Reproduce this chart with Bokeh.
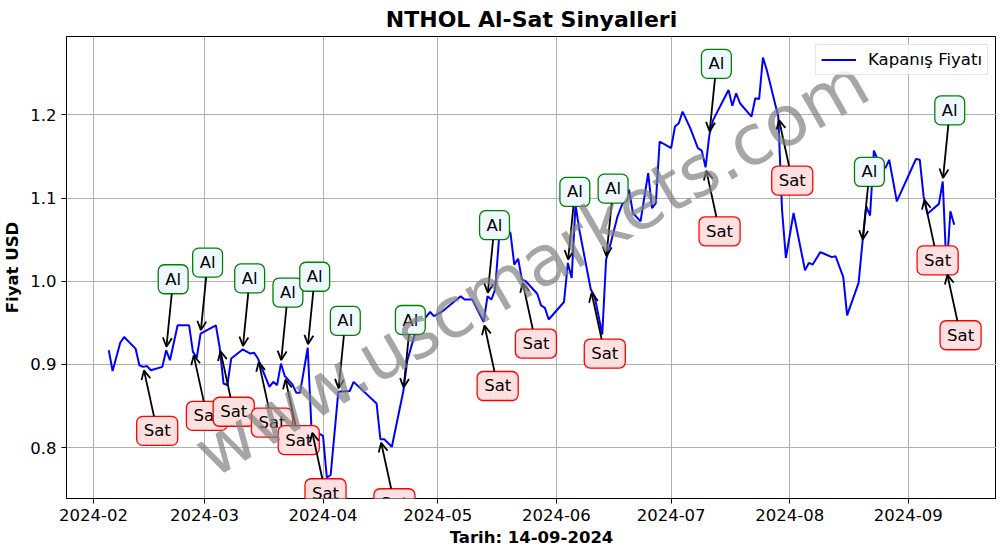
import numpy as np
import pandas as pd
from bokeh.plotting import figure
from bokeh.models import (ColumnDataSource, Range1d, Arrow, OpenHead, FixedTicker, Label,
                          MonthsTicker, DatetimeTickFormatter, NumeralTickFormatter)
from bokeh.embed import file_html
from bokeh.resources import INLINE

# ---------------- data ----------------
dates = [
    "2024-02-05", "2024-02-06", "2024-02-08", "2024-02-09", "2024-02-12", "2024-02-13",
    "2024-02-14", "2024-02-15", "2024-02-16", "2024-02-19", "2024-02-20", "2024-02-21",
    "2024-02-23", "2024-02-26", "2024-02-27", "2024-02-28", "2024-02-29", "2024-03-04",
    "2024-03-05", "2024-03-06", "2024-03-07", "2024-03-08", "2024-03-11", "2024-03-13",
    "2024-03-14", "2024-03-15", "2024-03-18", "2024-03-19", "2024-03-20", "2024-03-21",
    "2024-03-22", "2024-03-24", "2024-03-25", "2024-03-26", "2024-03-28", "2024-03-29",
    "2024-04-01", "2024-04-02", "2024-04-03", "2024-04-05", "2024-04-08", "2024-04-09",
    "2024-04-15", "2024-04-16", "2024-04-17", "2024-04-19", "2024-04-22", "2024-04-23",
    "2024-04-25", "2024-04-27", "2024-04-29", "2024-04-30", "2024-05-02", "2024-05-07",
    "2024-05-08", "2024-05-10", "2024-05-13", "2024-05-14", "2024-05-15", "2024-05-16",
    "2024-05-17", "2024-05-18", "2024-05-20", "2024-05-21", "2024-05-22", "2024-05-23",
    "2024-05-24", "2024-05-27", "2024-05-28", "2024-05-29", "2024-05-30", "2024-06-03",
    "2024-06-04", "2024-06-05", "2024-06-06", "2024-06-07", "2024-06-10", "2024-06-11",
    "2024-06-13", "2024-06-14", "2024-06-15", "2024-06-17", "2024-06-18", "2024-06-20",
    "2024-06-21", "2024-06-23", "2024-06-25", "2024-06-26", "2024-06-27", "2024-06-28",
    "2024-07-01", "2024-07-02", "2024-07-03", "2024-07-04", "2024-07-06", "2024-07-08",
    "2024-07-09", "2024-07-10", "2024-07-11", "2024-07-12", "2024-07-16", "2024-07-17",
    "2024-07-18", "2024-07-19", "2024-07-22", "2024-07-23", "2024-07-24", "2024-07-25",
    "2024-07-26", "2024-07-29", "2024-07-30", "2024-07-31", "2024-08-02", "2024-08-05",
    "2024-08-06", "2024-08-07", "2024-08-09", "2024-08-10", "2024-08-12", "2024-08-13",
    "2024-08-15", "2024-08-16", "2024-08-19", "2024-08-20", "2024-08-21", "2024-08-22",
    "2024-08-23", "2024-08-24", "2024-08-26", "2024-08-27", "2024-08-29", "2024-09-03",
    "2024-09-04", "2024-09-05", "2024-09-06", "2024-09-09", "2024-09-10", "2024-09-11",
    "2024-09-12", "2024-09-13",
]
close = [
    0.917, 0.892, 0.926, 0.933, 0.919, 0.899,
    0.897, 0.898, 0.893, 0.897, 0.917, 0.905,
    0.947, 0.947, 0.915, 0.908, 0.937, 0.947,
    0.920, 0.877, 0.875, 0.907, 0.918, 0.913,
    0.914, 0.907, 0.873, 0.879, 0.875, 0.901,
    0.886, 0.876, 0.866, 0.866, 0.920, 0.822,
    0.814, 0.764, 0.767, 0.867, 0.868, 0.879,
    0.853, 0.810, 0.810, 0.801, 0.868, 0.904,
    0.936, 0.952, 0.963, 0.958, 0.963, 0.982,
    0.978, 0.978, 0.951, 0.982, 0.978, 0.990,
    1.051, 1.070, 1.058, 1.020, 1.027, 1.002,
    1.000, 0.985, 0.971, 0.968, 0.954, 0.975,
    1.022, 1.004, 1.092, 1.062, 0.990, 0.982,
    0.936, 1.026, 1.042, 1.078, 1.090, 1.110,
    1.082, 1.072, 1.130, 1.088, 1.094, 1.168,
    1.160, 1.186, 1.190, 1.204, 1.184, 1.160,
    1.157, 1.137, 1.176, 1.194, 1.230, 1.211,
    1.226, 1.214, 1.198, 1.220, 1.219, 1.269,
    1.254, 1.198, 1.085, 1.028, 1.082, 1.013,
    1.022, 1.020, 1.035, 1.033, 1.029, 1.030,
    1.005, 0.959, 0.998, 1.046, 1.090, 1.079,
    1.157, 1.146, 1.136, 1.146, 1.096, 1.147,
    1.146, 1.102, 1.081, 1.093, 1.120, 1.012,
    1.084, 1.068,
]
al_dates = ["2024-02-20", "2024-02-29", "2024-03-11", "2024-03-21", "2024-03-28",
            "2024-04-05", "2024-04-22", "2024-05-14", "2024-06-04", "2024-06-14",
            "2024-07-11", "2024-08-20", "2024-09-10"]
sat_dates = ["2024-02-14", "2024-02-27", "2024-03-05", "2024-03-15", "2024-03-22",
             "2024-03-29", "2024-04-16", "2024-05-13", "2024-05-23", "2024-06-10",
             "2024-07-10", "2024-07-29", "2024-09-05", "2024-09-11"]
y_ticks = [0.8, 0.9, 1.0, 1.1, 1.2]

title_text = "NTHOL Al-Sat Sinyalleri"
x_label = "Tarih: 14-09-2024"
y_label = "Fiyat USD"
legend_text = "Kapanış Fiyatı"
watermark = "www.uscmarkets.com"

# ---------------- derived ----------------
def to_ms(ds):
    return (pd.to_datetime(ds) - pd.Timestamp("1970-01-01")) // pd.Timedelta(milliseconds=1)

xms = np.asarray(to_ms(dates), dtype=float)
yv = np.asarray(close, dtype=float)
lookup = dict(zip(dates, close))

xspan = xms.max() - xms.min()
x0, x1 = xms.min() - 0.05 * xspan, xms.max() + 0.05 * xspan
yspan = yv.max() - yv.min()
y0, y1 = yv.min() - 0.05 * yspan, yv.max() + 0.05 * yspan

FW, FH = 930, 462
mpp = (x1 - x0) / FW   # ms per pixel
vpp = (y1 - y0) / FH   # value per pixel

ax = np.asarray(to_ms(al_dates), dtype=float)
ay = np.array([lookup[d] for d in al_dates])
sx = np.asarray(to_ms(sat_dates), dtype=float)
sy = np.array([lookup[d] for d in sat_dates])

FONT = "DejaVu Sans"

p = figure(frame_width=FW, frame_height=FH,
           x_range=Range1d(x0, x1), y_range=Range1d(y0, y1),
           x_axis_type="datetime", output_backend="svg", toolbar_location=None,
           min_border_left=59, min_border_right=0, min_border_top=29, min_border_bottom=0,
           title=title_text)

p.background_fill_color = "white"
p.border_fill_color = "white"
p.outline_line_color = "black"
p.outline_line_width = 1
p.outline_line_alpha = 1

p.title.text_font = FONT
p.title.text_font_size = "22px"
p.title.text_font_style = "bold"
p.title.text_color = "black"
p.title.align = "center"
p.title.standoff = 9

# axes
p.xaxis.ticker = MonthsTicker(months=list(range(1, 13)))
p.xaxis.formatter = DatetimeTickFormatter(months="%Y-%m", days="%Y-%m", years="%Y-%m")
p.yaxis.ticker = FixedTicker(ticks=y_ticks)
p.yaxis.formatter = NumeralTickFormatter(format="0.0")
for axis in (p.xaxis, p.yaxis):
    axis.axis_line_color = "black"
    axis.major_tick_line_color = "black"
    axis.major_tick_out = 5
    axis.major_tick_in = 0
    axis.minor_tick_line_color = None
    axis.major_label_text_font = FONT
    axis.major_label_text_font_size = "16.5px"
    axis.major_label_text_color = "black"
    axis.major_label_standoff = 5
    axis.axis_label_text_font = FONT
    axis.axis_label_text_font_size = "16.5px"
    axis.axis_label_text_font_style = "bold"
    axis.axis_label_text_color = "black"
p.xaxis.axis_label = x_label
p.yaxis.axis_label = y_label
p.xaxis.axis_label_standoff = 4
p.yaxis.axis_label_standoff = 5

p.xgrid.grid_line_color = "#b0b0b0"
p.ygrid.grid_line_color = "#b0b0b0"
p.xgrid.grid_line_width = 1
p.ygrid.grid_line_width = 1

# price line
src = ColumnDataSource(dict(x=xms, y=yv))
p.line("x", "y", source=src, line_color="#0000ff", line_width=2, legend_label=legend_text)

# annotation boxes
for xd, yd in zip(ax, ay):
    p.add_layout(Label(x=xd + 7 * mpp, y=yd + 71 * vpp, text="Al",
                       text_align="center", text_baseline="middle",
                       text_font=FONT, text_font_size="16.5px", text_color="black",
                       background_fill_color="#f0f8ff", border_line_color="#008000",
                       border_line_width=1.3, padding=(7, 5), border_radius=6))
for xd, yd in zip(sx, sy):
    p.add_layout(Label(x=xd + 14 * mpp, y=yd - 64 * vpp, text="Sat",
                       text_align="center", text_baseline="middle",
                       text_font=FONT, text_font_size="16.5px", text_color="black",
                       background_fill_color="#ffe0e0", border_line_color="#ff0000",
                       border_line_width=1.3, padding=(7, 5), border_radius=6))

# arrows
al_arr = ColumnDataSource(dict(xs=ax + 5.6 * mpp, ys=ay + 56.5 * vpp,
                               xe=ax + 0.3 * mpp, ye=ay + 3.5 * vpp))
sat_arr = ColumnDataSource(dict(xs=sx + 10.8 * mpp, ys=sy - 49.5 * vpp,
                                xe=sx + 0.8 * mpp, ye=sy - 3.5 * vpp))
for s in (al_arr, sat_arr):
    p.add_layout(Arrow(source=s, x_start="xs", y_start="ys", x_end="xe", y_end="ye",
                       line_color="black", line_width=1.8,
                       end=OpenHead(size=9, line_color="black", line_width=1.8)))

# watermark
p.add_layout(Label(x=(x0 + x1) / 2, y=(y0 + y1) / 2, text=watermark, angle=np.deg2rad(30),
                   text_align="center", text_baseline="middle", text_font=FONT,
                   text_font_size="70px", text_color="gray", text_alpha=0.7))

# legend
lg = p.legend[0]
lg.location = "top_right"
lg.label_text_font = FONT
lg.label_text_font_size = "16.5px"
lg.label_text_color = "black"
lg.glyph_width = 35
lg.glyph_height = 17
lg.label_height = 17
lg.label_standoff = 12
lg.padding = 5
lg.margin = 8
lg.spacing = 0
lg.border_line_color = "#cccccc"
lg.border_line_width = 1
lg.background_fill_alpha = 0.8

open("out.html", "w").write(file_html(p, INLINE))
